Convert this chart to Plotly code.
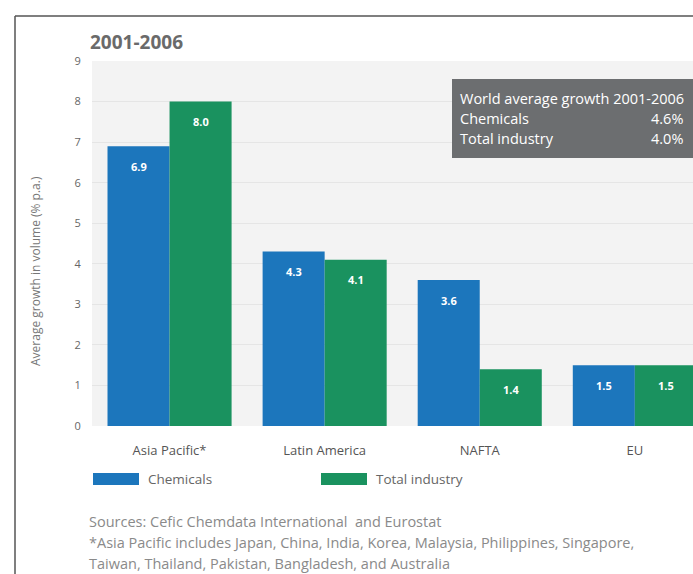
import plotly.graph_objects as go

# Average annual growth in volume, 2001-2006 (% p.a.)
regions = ["Asia Pacific*", "Latin America", "NAFTA", "EU"]
chemicals = [6.9, 4.3, 3.6, 1.5]
total_industry = [8.0, 4.1, 1.4, 1.5]

world_labels = ["Chemicals", "Total industry"]
world_values = ["4.6%", "4.0%"]

y_ticks = list(range(0, 10))

BLUE = "#1c76bc"
GREEN = "#1a925f"
FONT = "'Open Sans', Lato, sans-serif"

W, H = 693, 574
L, T, B = 92, 61, 148
PW, PH = W - L, H - T - B


def px(x):
    return (x - L) / PW


def py(y):
    return (H - B - y) / PH


fig = go.Figure()
fig.add_bar(x=list(range(len(regions))), y=chemicals, name="Chemicals",
            marker=dict(color=BLUE, line=dict(width=0)))
fig.add_bar(x=list(range(len(regions))), y=total_industry, name="Total industry",
            marker=dict(color=GREEN, line=dict(width=0)))

annotations = []
# value labels inside the top of each bar
for series, off in ((chemicals, -0.2), (total_industry, 0.2)):
    for i, v in enumerate(series):
        annotations.append(dict(x=i + off, y=v, xref="x", yref="y", text=f"<b>{v:.1f}</b>",
                                showarrow=False, yshift=-20,
                                font=dict(family=FONT, size=11, color="white")))

# chart heading
annotations.append(dict(x=px(88), y=py(42), xref="paper", yref="paper", text="<b>2001-2006</b>",
                        showarrow=False, xanchor="left", yanchor="middle",
                        font=dict(family=FONT, size=19, color="#6a6a6a")))
# y-axis title
annotations.append(dict(x=px(35), y=py(271), xref="paper", yref="paper",
                        text="Average growth in volume (% p.a.)", textangle=-90,
                        showarrow=False, xanchor="center", yanchor="middle",
                        font=dict(family=FONT, size=12, color="#777777")))

# world-average box text
annotations.append(dict(x=px(458), y=py(98), xref="paper", yref="paper",
                        text="World average growth 2001-2006", showarrow=False,
                        xanchor="left", yanchor="middle",
                        font=dict(family=FONT, size=14.5, color="white")))
for k, (lab, val) in enumerate(zip(world_labels, world_values)):
    yy = py(118 + 20 * k)
    annotations.append(dict(x=px(458), y=yy, xref="paper", yref="paper", text=lab,
                            showarrow=False, xanchor="left", yanchor="middle",
                            font=dict(family=FONT, size=14.5, color="white")))
    annotations.append(dict(x=px(685), y=yy, xref="paper", yref="paper", text=val,
                            showarrow=False, xanchor="right", yanchor="middle",
                            font=dict(family=FONT, size=14.5, color="white")))

# legend
legend_items = [("Chemicals", BLUE, 93), ("Total industry", GREEN, 321)]
shapes = []
for lab, col, x0 in legend_items:
    shapes.append(dict(type="rect", xref="paper", yref="paper",
                       x0=px(x0), x1=px(x0 + 46), y0=py(485), y1=py(473),
                       fillcolor=col, line=dict(width=0)))
    annotations.append(dict(x=px(x0 + 53), y=py(479), xref="paper", yref="paper", text=lab,
                            showarrow=False, xanchor="left", yanchor="middle",
                            font=dict(family=FONT, size=13.5, color="#666666")))

# source notes
notes = ["Sources: Cefic Chemdata International  and Eurostat",
         "*Asia Pacific includes Japan, China, India, Korea, Malaysia, Philippines, Singapore,",
         "Taiwan, Thailand, Pakistan, Bangladesh, and Australia"]
for k, line in enumerate(notes):
    annotations.append(dict(x=px(87), y=py(521 + 21 * k), xref="paper", yref="paper",
                            text=line, showarrow=False, xanchor="left", yanchor="middle",
                            font=dict(family=FONT, size=14.5, color="#8a8a8a")))

# world-average box
shapes.append(dict(type="rect", xref="paper", yref="paper", layer="above",
                   x0=px(452), x1=px(700), y0=py(158), y1=py(79),
                   fillcolor="#6c6e70", line=dict(width=0)))
# frame lines
shapes.append(dict(type="line", xref="paper", yref="paper",
                   x0=px(15), x1=px(700), y0=py(16), y1=py(16),
                   line=dict(color="#555555", width=1.5)))
shapes.append(dict(type="line", xref="paper", yref="paper",
                   x0=px(15), x1=px(15), y0=py(16), y1=py(580),
                   line=dict(color="#555555", width=1.5)))

fig.update_layout(
    width=W, height=H,
    margin=dict(l=L, r=0, t=T, b=B),
    paper_bgcolor="white", plot_bgcolor="#f3f3f3",
    barmode="group", bargap=0.2, bargroupgap=0,
    showlegend=False,
    font=dict(family=FONT, color="#666666"),
    annotations=annotations, shapes=shapes,
)
fig.update_xaxes(range=[-0.5, 3.375], tickmode="array", tickvals=list(range(len(regions))),
                 ticktext=regions, showgrid=False, zeroline=False, showline=False,
                 ticks="outside", ticklen=12, tickcolor="rgba(0,0,0,0)",
                 tickfont=dict(family=FONT, size=13, color="#555555"))
fig.update_yaxes(range=[0, 9], tickvals=y_ticks, showgrid=True, gridcolor="#e5e5e5",
                 gridwidth=1, zeroline=False, showline=False,
                 ticks="outside", ticklen=8, tickcolor="rgba(0,0,0,0)",
                 tickfont=dict(family=FONT, size=11, color="#666666"))

fig.write_html("out.html")
